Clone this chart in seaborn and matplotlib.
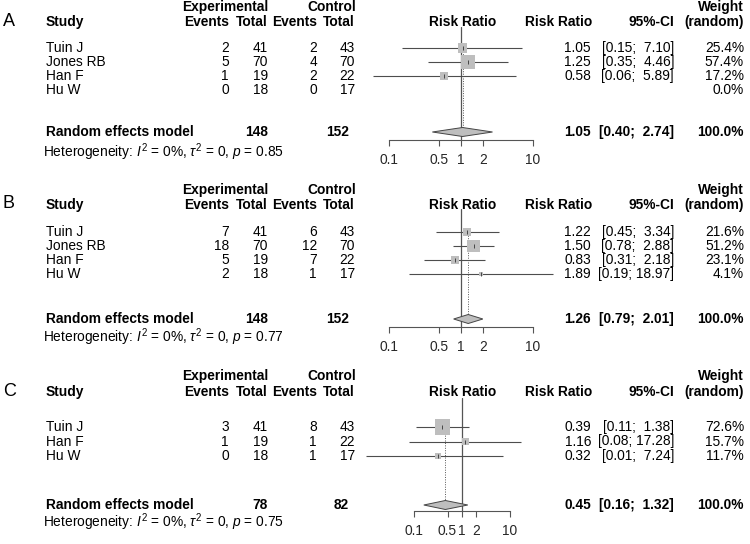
import numpy as np
import pandas as pd
import matplotlib
matplotlib.use("Agg")
import matplotlib.pyplot as plt
import seaborn as sns

sns.set_theme(style="white")
plt.rcParams["font.family"] = ["Liberation Sans", "DejaVu Sans"]
plt.rcParams["mathtext.fontset"] = "custom"
plt.rcParams["mathtext.it"] = "Liberation Sans:italic"
plt.rcParams["mathtext.rm"] = "Liberation Sans"

# --- datos de cada panel ---
studies_a = ["Tuin J", "Jones RB", "Han F", "Hu W"]
exp_events_a = [2, 5, 1, 0]
exp_total_a = [41, 70, 19, 18]
ctrl_events_a = [2, 4, 2, 0]
ctrl_total_a = [43, 70, 22, 17]
rr_a = [1.05, 1.25, 0.58, np.nan]
lo_a = [0.15, 0.35, 0.06, np.nan]
hi_a = [7.10, 4.46, 5.89, np.nan]
weight_a = [25.4, 57.4, 17.2, 0.0]
summary_a = [1.05, 0.40, 2.74]
totals_a = [148, 152]
pval_a = 0.85

studies_b = ["Tuin J", "Jones RB", "Han F", "Hu W"]
exp_events_b = [7, 18, 5, 2]
exp_total_b = [41, 70, 19, 18]
ctrl_events_b = [6, 12, 7, 1]
ctrl_total_b = [43, 70, 22, 17]
rr_b = [1.22, 1.50, 0.83, 1.89]
lo_b = [0.45, 0.78, 0.31, 0.19]
hi_b = [3.34, 2.88, 2.18, 18.97]
weight_b = [21.6, 51.2, 23.1, 4.1]
summary_b = [1.26, 0.79, 2.01]
totals_b = [148, 152]
pval_b = 0.77

studies_c = ["Tuin J", "Han F", "Hu W"]
exp_events_c = [3, 1, 0]
exp_total_c = [41, 19, 18]
ctrl_events_c = [8, 1, 1]
ctrl_total_c = [43, 22, 17]
rr_c = [0.39, 1.16, 0.32]
lo_c = [0.11, 0.08, 0.01]
hi_c = [1.38, 17.28, 7.24]
weight_c = [72.6, 15.7, 11.7]
summary_c = [0.45, 0.16, 1.32]
totals_c = [78, 82]
pval_c = 0.75

ticks = [0.1, 0.5, 1, 2, 10]
tick_labels = ["0.1", "0.5", "1", "2", "10"]

W, H = 750, 544
FS = 9.9
fig = plt.figure(figsize=(W / 100, H / 100), dpi=100)


def txt(x, y, s, ha="left", bold=False, size=FS, va="center"):
    fig.text(x / W, 1 - y / H, s, ha=ha, va=va, fontsize=size,
             fontweight="bold" if bold else "normal", color="black")


def fmt_ci(lo, hi):
    return f"[{lo:.2f}; {hi:5.2f}]"


def panel(label, g, studies, ev_e, tot_e, ev_c, tot_c, rr, lo, hi, w, summ, totals, pval):
    # cabeceras
    txt(3, g["hdr2"] - 1, label, size=13)
    txt(46, g["hdr2"], "Study", bold=True)
    txt(268, g["hdr1"], "Experimental", ha="right", bold=True)
    txt(356, g["hdr1"], "Control", ha="right", bold=True)
    for x, s in [(229, "Events"), (268, "Total"), (317, "Events"), (355, "Total")]:
        txt(x, g["hdr2"], s, ha="right", bold=True)
    txt(463, g["hdr2"], "Risk Ratio", ha="center", bold=True)
    txt(592, g["hdr2"], "Risk Ratio", ha="right", bold=True)
    txt(674, g["hdr2"], "95%-CI", ha="right", bold=True)
    txt(744, g["hdr1"], "Weight", ha="right", bold=True)
    txt(744, g["hdr2"], "(random)", ha="right", bold=True)

    # filas de estudios
    for i, s in enumerate(studies):
        y = g["row0"] + i * g["step"]
        txt(46, y, s)
        txt(229, y, str(ev_e[i]), ha="right")
        txt(268, y, str(tot_e[i]), ha="right")
        txt(317, y, str(ev_c[i]), ha="right")
        txt(355, y, str(tot_c[i]), ha="right")
        if not np.isnan(rr[i]):
            txt(591, y, f"{rr[i]:.2f}", ha="right")
            txt(674, y, fmt_ci(lo[i], hi[i]), ha="right")
        txt(744, y, f"{w[i]:.1f}%", ha="right")

    # modelo de efectos aleatorios
    ys = g["summ"]
    txt(46, ys, "Random effects model", bold=True)
    txt(268, ys, str(totals[0]), ha="right", bold=True)
    txt(349, ys, str(totals[1]), ha="right", bold=True)
    txt(591, ys, f"{summ[0]:.2f}", ha="right", bold=True)
    txt(674, ys, fmt_ci(summ[1], summ[2]), ha="right", bold=True)
    txt(744, ys, "100.0%", ha="right", bold=True)
    txt(43, g["het"],
        r"Heterogeneity: $I^2$ = 0%, $\tau^2$ = 0, $p$ = " + f"{pval:.2f}")

    # forest
    step = g["step"]
    ax = fig.add_axes([g["x0"] / W, 1 - g["axis"] / H,
                       (g["x1"] - g["x0"]) / W, (g["axis"] - g["vtop"]) / H])
    ax.set_xscale("log")
    ax.set_xlim(0.1, 10)
    ax.set_ylim((g["axis"] - g["row0"]) / step, (g["vtop"] - g["row0"]) / step)
    ax.patch.set_alpha(0)

    df = pd.DataFrame({"row": np.arange(len(studies)), "rr": rr, "lo": lo,
                       "hi": hi, "w": w}).dropna()
    ax.hlines(df["row"], df["lo"], df["hi"], color="#4d4d4d", lw=0.8,
              clip_on=False, zorder=2)
    side_pt = 1.8 * np.sqrt(df["w"]) * 0.72
    ax.scatter(df["rr"], df["row"], s=side_pt ** 2, marker="s",
               color="#BEBEBE", edgecolors="none", zorder=3, clip_on=False)
    sns.scatterplot(data=df, x="rr", y="row", marker="|", s=8,
                    color="#333333", linewidth=0.6, zorder=4,
                    clip_on=False, legend=False, ax=ax)

    ax.axvline(1, color="#555555", lw=0.9, zorder=1)
    y_s = (ys - g["row0"]) / step
    ax.vlines(summ[0], -0.3, y_s, color="#555555", lw=0.7,
              linestyles=(0, (1, 1.5)), zorder=1)
    dh = 4.5 / step
    ax.fill([summ[1], summ[0], summ[2], summ[0]],
            [y_s, y_s - dh, y_s, y_s + dh],
            facecolor="#BEBEBE", edgecolor="#444444", lw=0.7, zorder=3,
            clip_on=False)

    for side in ["top", "right", "left"]:
        ax.spines[side].set_visible(False)
    ax.spines["bottom"].set_color("#555555")
    ax.spines["bottom"].set_linewidth(0.8)
    ax.set_xticks(ticks)
    ax.set_xticklabels(tick_labels)
    ax.xaxis.set_minor_locator(matplotlib.ticker.NullLocator())
    ax.tick_params(axis="x", direction="out", length=4.5, width=0.8,
                   color="#555555", labelsize=FS, pad=5, bottom=True)
    ax.set_yticks([])
    ax.set_xlabel("")
    ax.set_ylabel("")


geo_a = dict(hdr1=7, hdr2=22, row0=48, step=14, summ=132, het=152,
             axis=140, vtop=27, x0=389, x1=533)
geo_b = dict(hdr1=190, hdr2=205, row0=232, step=14, summ=319, het=337,
             axis=327, vtop=209, x0=389, x1=533)
geo_c = dict(hdr1=376, hdr2=392, row0=427, step=14.5, summ=505, het=522,
             axis=511, vtop=398, x0=414, x1=510)

panel("A", geo_a, studies_a, exp_events_a, exp_total_a, ctrl_events_a,
      ctrl_total_a, rr_a, lo_a, hi_a, weight_a, summary_a, totals_a, pval_a)
panel("B", geo_b, studies_b, exp_events_b, exp_total_b, ctrl_events_b,
      ctrl_total_b, rr_b, lo_b, hi_b, weight_b, summary_b, totals_b, pval_b)
panel("C", geo_c, studies_c, exp_events_c, exp_total_c, ctrl_events_c,
      ctrl_total_c, rr_c, lo_c, hi_c, weight_c, summary_c, totals_c, pval_c)

fig.savefig("out.png", dpi=100)
